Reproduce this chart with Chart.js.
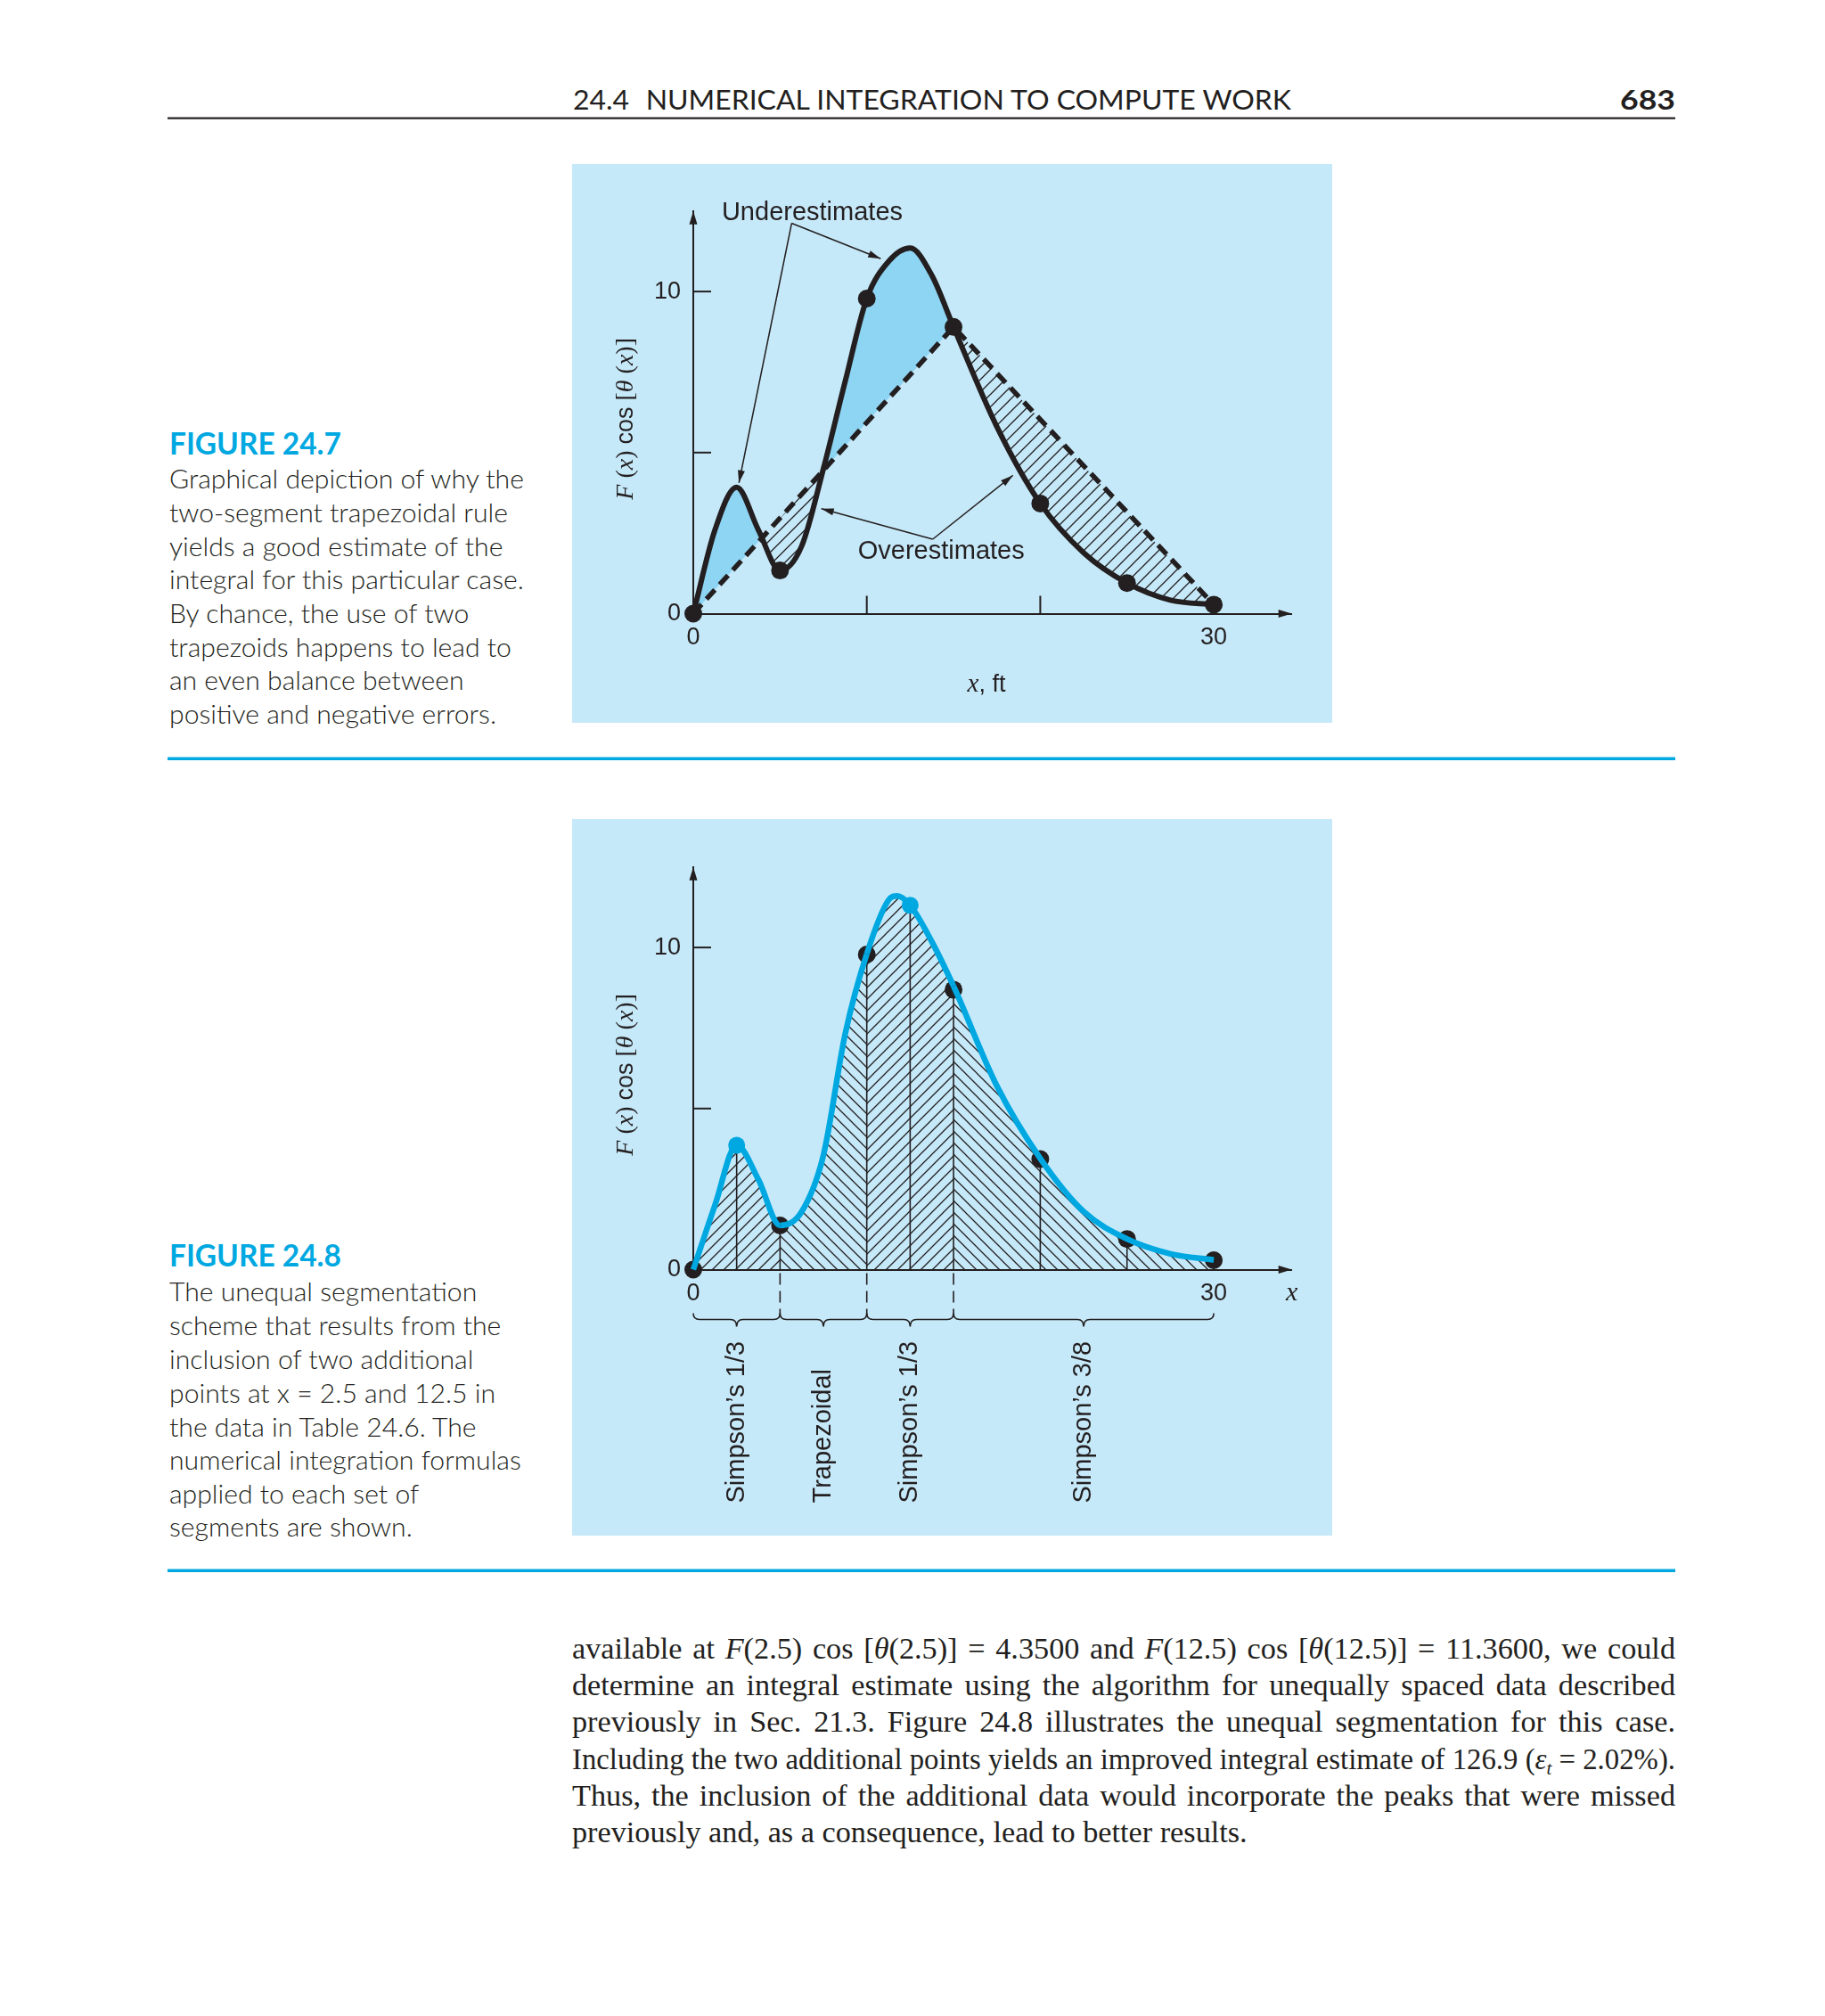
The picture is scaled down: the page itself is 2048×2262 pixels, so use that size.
<!DOCTYPE html>
<html lang="en">
<head>
<meta charset="utf-8">
<title>Figuras 24.7 e 24.8</title>
<script src="https://cdn.jsdelivr.net/npm/chart.js@4.4.1/dist/chart.umd.min.js"></script>
<style>
  html, body { margin: 0; padding: 0; background: #ffffff; }
  body { position: relative; width: 2048px; height: 2262px; overflow: hidden; }
  #pagina { position: absolute; left: 0; top: 0; }
  .painel { position: absolute; background: #c6e9f9; }
  .painel canvas { display: block; }
  .cab { font-family: Lato, 'Noto Sans', sans-serif; font-size: 31px; fill: #231f20; }
  .titulo { font-family: Lato, 'Noto Sans', sans-serif; font-weight: 700; font-size: 28px; fill: #00a8e1; }
  .legenda { font-family: Lato, 'Noto Sans', sans-serif; font-weight: 300; font-size: 29px; fill: #231f20; }
  .corpo { font-family: 'Liberation Serif', serif; font-size: 33px; fill: #231f20; }
</style>
</head>
<body>
<svg id="pagina" width="2048" height="2262">
  <text class="cab" x="643" y="123" textLength="806" lengthAdjust="spacingAndGlyphs">24.4<tspan dx="18">NUMERICAL INTEGRATION TO COMPUTE WORK</tspan></text>
  <text class="cab" x="1880" y="123" text-anchor="end" font-weight="700" font-size="34" textLength="62" lengthAdjust="spacingAndGlyphs">683</text>
  <rect x="188" y="131.5" width="1692" height="2.2" fill="#231f20"/>
  <rect x="188" y="849.5" width="1692" height="3.5" fill="#00a8e1"/>
  <rect x="188" y="1760.5" width="1692" height="3.5" fill="#00a8e1"/>

  <text class="titulo" x="190" y="510">FIGURE 24.7</text>
  <text class="legenda" x="190" y="548">Graphical depiction of why the</text>
  <text class="legenda" x="190" y="586">two-segment trapezoidal rule</text>
  <text class="legenda" x="190" y="624">yields a good estimate of the</text>
  <text class="legenda" x="190" y="661">integral for this particular case.</text>
  <text class="legenda" x="190" y="699">By chance, the use of two</text>
  <text class="legenda" x="190" y="737">trapezoids happens to lead to</text>
  <text class="legenda" x="190" y="774">an even balance between</text>
  <text class="legenda" x="190" y="812">positive and negative errors.</text>

  <text class="titulo" x="190" y="1421">FIGURE 24.8</text>
  <text class="legenda" x="190" y="1460">The unequal segmentation</text>
  <text class="legenda" x="190" y="1498">scheme that results from the</text>
  <text class="legenda" x="190" y="1536">inclusion of two additional</text>
  <text class="legenda" x="190" y="1574">points at x = 2.5 and 12.5 in</text>
  <text class="legenda" x="190" y="1612">the data in Table 24.6. The</text>
  <text class="legenda" x="190" y="1649">numerical integration formulas</text>
  <text class="legenda" x="190" y="1687">applied to each set of</text>
  <text class="legenda" x="190" y="1724">segments are shown.</text>

  <text class="corpo" x="642" y="1861">available at <tspan font-style="italic">F</tspan>(2.5) cos [<tspan font-style="italic">θ</tspan>(2.5)] = 4.3500 and <tspan font-style="italic">F</tspan>(12.5) cos [<tspan font-style="italic">θ</tspan>(12.5)] = 11.3600, we could</text>
  <text class="corpo" x="642" y="1902">determine an integral estimate using the algorithm for unequally spaced data described</text>
  <text class="corpo" x="642" y="1943">previously in Sec. 21.3. Figure 24.8 illustrates the unequal segmentation for this case.</text>
  <text class="corpo" x="642" y="1985">Including the two additional points yields an improved integral estimate of 126.9 (<tspan font-style="italic">ε</tspan><tspan font-style="italic" font-size="22" dy="6">t</tspan><tspan dy="-6"> = 2.02%).</tspan></text>
  <text class="corpo" x="642" y="2026">Thus, the inclusion of the additional data would incorporate the peaks that were missed</text>
  <text class="corpo" x="642" y="2067">previously and, as a consequence, lead to better results.</text>
</svg>

<div class="painel" style="left:642px;top:184px;width:853px;height:627px"><canvas id="myChart-grafico" width="853" height="627"></canvas></div>
<div class="painel" style="left:642px;top:919px;width:853px;height:804px"><canvas id="myChart-grafico2" width="853" height="804"></canvas></div>

<script>
// ===== dados =====
// pontos da tabela 24.6
const xTabela = [0, 5, 10, 15, 20, 25, 30];
const yTabela1 = [0, 1.34, 9.78, 8.9, 3.42, 0.95, 0.28];   // fig 24.7
const yTabela2 = [0, 1.37, 9.78, 8.69, 3.43, 0.95, 0.29];  // fig 24.8

// trapezio de dois segmentos (linha tracejada)
const xTrapezio = [0, 15, 30];
const yTrapezio = [0, 8.9, 0.28];

// curva preta da fig 24.7
const xCurva1 = [0, 1.25, 2.5, 3.75, 5, 6.25, 7.5, 8.75, 10, 11.25, 12.5, 13.75, 15, 17.5, 20, 22.5, 25, 27.5, 30];
const yCurva1 = [0, 2.6, 3.92, 2.6, 1.34, 2.1, 4.5, 7.2, 9.78, 10.93, 11.35, 10.5, 8.9, 5.8, 3.42, 1.89, 0.95, 0.42, 0.28];

// curva azul da fig 24.8
const xCurva2 = [0, 1.25, 2.5, 3.75, 5, 6.25, 7.5, 8.75, 10, 11.25, 11.75, 12.5, 13.75, 15, 17.5, 20, 22.5, 25, 27.5, 30];
const yCurva2 = [0, 2.0, 3.86, 2.8, 1.37, 1.8, 3.55, 7.3, 9.8, 11.47, 11.6, 11.31, 10.18, 8.8, 5.7, 3.45, 1.8, 0.95, 0.49, 0.3];

// pontos adicionais (x = 2.5 e 12.5)
const xExtras = [2.5, 12.5];
const yExtras = [3.86, 11.31];

// segmentos e formulas
const limitesSegmentos = [0, 5, 10, 15, 30];
const nomesSegmentos = ['Simpson’s 1/3', 'Trapezoidal', 'Simpson’s 1/3', 'Simpson’s 3/8'];

// eixos
const rotulosX = [0, 30];
const rotulosY = [0, 10];
const marcasX1 = [10, 20];
const marcasY = [5, 10];

// notas da fig 24.7 (em unidades do grafico)
const notaSub = { texto: 'Underestimates', x: 1.64, y: 12.21, origem: [5.67, 12.12], alvos: [[2.63, 4.06], [10.8, 11.02]] };
const notaSobre = { texto: 'Overestimates', x: 9.49, y: 1.70, origem: [13.8, 2.31], alvos: [[7.38, 3.26], [18.42, 4.29]] };

// cores
const preto = '#231f20';
const ciano = '#00a8e1';
const azulForte = '#8ed4f3';

const pares = (xs, ys) => xs.map((x, i) => ({ x: x, y: ys[i] }));
const serifIt = n => 'italic ' + n + 'px "Liberation Serif"';
const serif = n => n + 'px "Liberation Serif"';
const sans = n => n + 'px "Liberation Sans"';

// padrao de hachura
function criarHachura(ctxDestino, passo, sentido) {
  const c = document.createElement('canvas');
  c.width = passo; c.height = passo;
  const g = c.getContext('2d');
  g.strokeStyle = preto;
  g.lineWidth = 1.3;
  g.beginPath();
  if (sentido === '/') {
    g.moveTo(-1, passo + 1); g.lineTo(passo + 1, -1);
    g.moveTo(-2, 2); g.lineTo(2, -2);
    g.moveTo(passo - 2, passo + 2); g.lineTo(passo + 2, passo - 2);
  } else {
    g.moveTo(-1, -1); g.lineTo(passo + 1, passo + 1);
    g.moveTo(passo - 2, -2); g.lineTo(passo + 2, 2);
    g.moveTo(-2, passo - 2); g.lineTo(2, passo + 2);
  }
  g.stroke();
  return ctxDestino.createPattern(c, 'repeat');
}

function ponta(ctx, x1, y1, x2, y2, comp, meia) {
  const ang = Math.atan2(y2 - y1, x2 - x1);
  const c = Math.cos(ang), s = Math.sin(ang);
  const bx = x2 - comp * c, by = y2 - comp * s;
  ctx.beginPath();
  ctx.moveTo(x2, y2);
  ctx.lineTo(bx - meia * s, by + meia * c);
  ctx.lineTo(bx + meia * s, by - meia * c);
  ctx.closePath();
  ctx.fill();
}

// texto com varias fontes (italico etc), centrado em x
function textoRico(ctx, partes, x, y, rot, desloc) {
  ctx.save();
  ctx.translate(x, y);
  if (rot) ctx.rotate(rot);
  ctx.textAlign = 'left';
  ctx.textBaseline = 'alphabetic';
  ctx.fillStyle = preto;
  let total = 0;
  for (const [t, f] of partes) { ctx.font = f; total += ctx.measureText(t).width; }
  let cx = -total / 2;
  for (const [t, f] of partes) {
    ctx.font = f;
    ctx.fillText(t, cx, desloc || 0);
    cx += ctx.measureText(t).width;
  }
  ctx.restore();
}

function tituloY(chart) {
  const { ctx, chartArea: a, scales: { y } } = chart;
  const partes = [['F', serifIt(28)], [' (', serif(28)], ['x', serifIt(28)], [') ', serif(28)], ['cos', sans(27)],
    [' [', serif(28)], ['θ', serifIt(28)], [' (', serif(28)], ['x', serifIt(28)], [')]', serif(28)]];
  textoRico(ctx, partes, a.left - 76, y.getPixelForValue(6.05), -Math.PI / 2, 8);
}

// eixos: marcas internas e setas
const eixosPlugin = {
  id: 'eixos',
  beforeDatasetsDraw(chart, args, opts) {
    const { ctx, chartArea: a, scales: { x, y } } = chart;
    ctx.save();
    ctx.strokeStyle = preto;
    ctx.fillStyle = preto;
    ctx.lineWidth = 2;
    (opts.marcasY || []).forEach(v => {
      const py = y.getPixelForValue(v);
      ctx.beginPath(); ctx.moveTo(a.left, py); ctx.lineTo(a.left + 20, py); ctx.stroke();
    });
    (opts.marcasX || []).forEach(v => {
      const px = x.getPixelForValue(v);
      ctx.beginPath(); ctx.moveTo(px, a.bottom); ctx.lineTo(px, a.bottom - 20); ctx.stroke();
    });
    ponta(ctx, a.left, a.bottom, a.left, a.top, 15, 4.5);
    ponta(ctx, a.left, a.bottom, a.right, a.bottom, 15, 4.5);
    ctx.restore();
  }
};

function desenharNota(ctx, x, y, nota) {
  ctx.font = sans(29);
  ctx.fillStyle = preto;
  ctx.strokeStyle = preto;
  ctx.textAlign = 'left';
  ctx.textBaseline = 'alphabetic';
  ctx.fillText(nota.texto, x.getPixelForValue(nota.x), y.getPixelForValue(nota.y));
  const ox = x.getPixelForValue(nota.origem[0]), oy = y.getPixelForValue(nota.origem[1]);
  ctx.lineWidth = 1.5;
  nota.alvos.forEach(([ax, ay]) => {
    const tx = x.getPixelForValue(ax), ty = y.getPixelForValue(ay);
    ctx.beginPath(); ctx.moveTo(ox, oy); ctx.lineTo(tx, ty); ctx.stroke();
    ponta(ctx, ox, oy, tx, ty, 14, 4);
  });
}

const notasPlugin = {
  id: 'notas',
  afterDraw(chart) {
    const { ctx, chartArea: a, scales: { x, y } } = chart;
    ctx.save();
    desenharNota(ctx, x, y, notaSub);
    desenharNota(ctx, x, y, notaSobre);
    tituloY(chart);
    textoRico(ctx, [['x', serifIt(29)], [', ft', sans(27)]], x.getPixelForValue(16.9), a.bottom + 87, 0, 0);
    ctx.restore();
  }
};

const segmentosPlugin = {
  id: 'segmentos',
  beforeDatasetsDraw(chart) {
    // linhas verticais em cada ponto
    const { ctx, scales: { x, y } } = chart;
    const xs = xTabela.concat(xExtras), ys = yTabela2.concat(yExtras);
    ctx.save();
    ctx.strokeStyle = preto;
    ctx.lineWidth = 1.6;
    xs.forEach((v, i) => {
      const px = x.getPixelForValue(v);
      ctx.beginPath(); ctx.moveTo(px, y.getPixelForValue(0)); ctx.lineTo(px, y.getPixelForValue(ys[i])); ctx.stroke();
    });
    ctx.restore();
  },
  afterDraw(chart) {
    const { ctx, chartArea: a, scales: { x } } = chart;
    const yb = a.bottom + 56;
    ctx.save();
    ctx.strokeStyle = preto;
    ctx.fillStyle = preto;
    ctx.lineWidth = 1.6;
    // tracejados abaixo do eixo
    ctx.setLineDash([13, 7]);
    limitesSegmentos.slice(1, -1).forEach(v => {
      const px = x.getPixelForValue(v);
      ctx.beginPath(); ctx.moveTo(px, a.bottom + 4); ctx.lineTo(px, yb - 6); ctx.stroke();
    });
    ctx.setLineDash([]);
    // chaves
    for (let i = 0; i < nomesSegmentos.length; i++) {
      const x1 = x.getPixelForValue(limitesSegmentos[i]);
      const x2 = x.getPixelForValue(limitesSegmentos[i + 1]);
      const xm = (x1 + x2) / 2;
      ctx.beginPath();
      ctx.moveTo(x1, yb - 7);
      ctx.quadraticCurveTo(x1, yb, x1 + 7, yb);
      ctx.lineTo(xm - 7, yb);
      ctx.quadraticCurveTo(xm, yb, xm, yb + 8);
      ctx.quadraticCurveTo(xm, yb, xm + 7, yb);
      ctx.lineTo(x2 - 7, yb);
      ctx.quadraticCurveTo(x2, yb, x2, yb - 7);
      ctx.stroke();
      // nome da formula, girado
      ctx.save();
      ctx.translate(xm, a.bottom + 262);
      ctx.rotate(-Math.PI / 2);
      ctx.font = sans(29);
      ctx.textAlign = 'left';
      ctx.textBaseline = 'middle';
      ctx.fillText(nomesSegmentos[i], 0, 0);
      ctx.restore();
    }
    tituloY(chart);
    textoRico(ctx, [['x', serifIt(30)]], a.right, a.bottom + 34, 0, 0);
    ctx.restore();
  }
};

function opcoesBase(alturaX, topo, marcasX) {
  return {
    responsive: false,
    animation: false,
    devicePixelRatio: 1,
    events: [],
    layout: { padding: { left: 0, right: 45.3, top: topo, bottom: 0 } },
    plugins: {
      legend: { display: false },
      tooltip: { enabled: false },
      filler: { drawTime: 'beforeDatasetsDraw' },
      eixos: { marcasX: marcasX, marcasY: marcasY }
    },
    scales: {
      x: {
        type: 'linear', min: 0, max: 34.5,
        grid: { display: false, drawTicks: false },
        border: { display: true, color: preto, width: 2 },
        afterBuildTicks: s => { s.ticks = rotulosX.map(v => ({ value: v })); },
        afterFit: s => { s.height = alturaX; },
        ticks: { color: preto, padding: 11, autoSkip: false, maxRotation: 0, font: { family: 'Liberation Sans', size: 27 } }
      },
      y: {
        type: 'linear', min: 0, max: 12.5,
        grid: { display: false, drawTicks: false },
        border: { display: true, color: preto, width: 2 },
        afterBuildTicks: s => { s.ticks = rotulosY.map(v => ({ value: v })); },
        afterFit: s => { s.width = 136; },
        ticks: { color: preto, padding: 14, font: { family: 'Liberation Sans', size: 27 } }
      }
    }
  };
}

// figura 24.7
function gerarGrafico() {
  const ctx = document.getElementById('myChart-grafico').getContext('2d');
  const hachura = criarHachura(ctx, 14, '/');
  new Chart(ctx, {
    type: 'line',
    data: {
      datasets: [
        { // curva
          data: pares(xCurva1, yCurva1),
          borderColor: preto, borderWidth: 6, pointRadius: 0,
          cubicInterpolationMode: 'monotone', clip: false,
          fill: { target: 1, above: azulForte, below: hachura },
          order: 1
        },
        { // trapezio tracejado
          data: pares(xTrapezio, yTrapezio),
          borderColor: preto, borderWidth: 5.5, borderDash: [14, 8], pointRadius: 0,
          tension: 0, fill: false, clip: false,
          order: 2
        },
        { // pontos
          data: pares(xTabela, yTabela1),
          showLine: false, pointRadius: 10, pointBackgroundColor: preto, pointBorderWidth: 0,
          fill: false, clip: false,
          order: 0
        }
      ]
    },
    options: opcoesBase(122.5, 52.75, marcasX1),
    plugins: [eixosPlugin, notasPlugin]
  });
}

// figura 24.8
function gerarGrafico2() {
  const ctx = document.getElementById('myChart-grafico2').getContext('2d');
  const barra = criarHachura(ctx, 13, '/');
  const contra = criarHachura(ctx, 13, '\\');
  const escolher = xv => (xv < 5 || (xv >= 10 && xv < 15)) ? barra : contra;
  new Chart(ctx, {
    type: 'line',
    data: {
      datasets: [
        { // pontos adicionais
          data: pares(xExtras, yExtras),
          showLine: false, pointRadius: 9.5, pointBackgroundColor: ciano, pointBorderWidth: 0,
          fill: false, clip: false,
          order: 0
        },
        { // curva azul com hachura por segmento
          data: pares(xCurva2, yCurva2),
          borderColor: ciano, borderWidth: 6.5, pointRadius: 0,
          cubicInterpolationMode: 'monotone', clip: false,
          fill: 'origin', backgroundColor: barra,
          segment: { backgroundColor: c => escolher(c.p0.parsed.x) },
          order: 1
        },
        { // pontos da tabela
          data: pares(xTabela, yTabela2),
          showLine: false, pointRadius: 10, pointBackgroundColor: preto, pointBorderWidth: 0,
          fill: false, clip: false,
          order: 2
        }
      ]
    },
    options: opcoesBase(298.5, 53.75, []),
    plugins: [eixosPlugin, segmentosPlugin]
  });
}

// ajusta tamanhos dos textos da pagina
function ajustarTextos() {
  const legendas = document.querySelectorAll('.legenda');
  const tam = 29 * 398 / legendas[0].getComputedTextLength();
  legendas.forEach(el => { el.style.fontSize = tam + 'px'; });
  document.querySelectorAll('.titulo').forEach(el => {
    el.style.fontSize = (28 * 193 / el.getComputedTextLength()) + 'px';
  });
  const linhas = document.querySelectorAll('.corpo');
  const ultima = linhas[linhas.length - 1];
  const tamCorpo = 33 * 758 / ultima.getComputedTextLength();
  linhas.forEach(el => { el.style.fontSize = tamCorpo + 'px'; });
  const W = 1238;
  linhas.forEach((el, i) => {
    if (i === linhas.length - 1) return;
    const w = el.getComputedTextLength();
    const n = (el.textContent.match(/ /g) || []).length;
    const sobra = W - w;
    if (sobra >= 0) el.style.wordSpacing = (sobra / n) + 'px';
    else { el.setAttribute('textLength', W); el.setAttribute('lengthAdjust', 'spacingAndGlyphs'); }
  });
}

ajustarTextos();
gerarGrafico();
gerarGrafico2();
</script>
</body>
</html>
